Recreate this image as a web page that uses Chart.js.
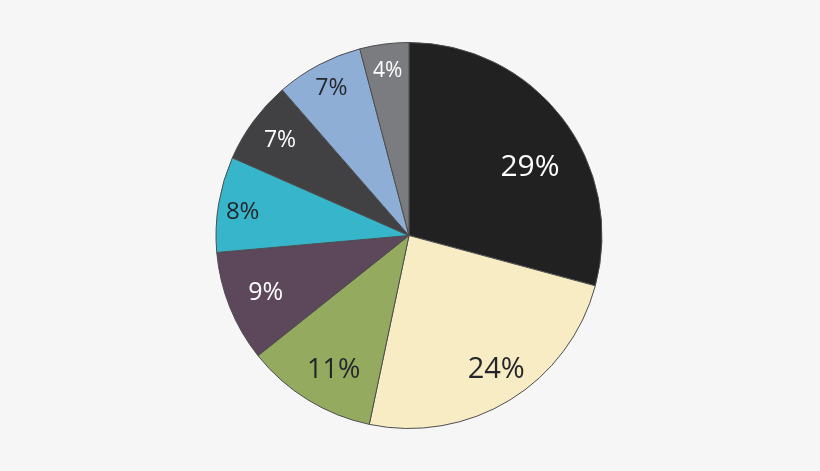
<!DOCTYPE html>
<html>
<head>
<meta charset="utf-8">
<script src="https://cdn.jsdelivr.net/npm/chart.js@4/dist/chart.umd.min.js"></script>
<style>
    html, body { margin: 0; padding: 0; background: #f6f6f6; }
    #wrap { width: 820px; height: 471px; }
</style>
</head>
<body>
<div id="wrap"><canvas id="pieChart" width="820" height="471"></canvas></div>
<script>
// Slice data, clockwise from 12 o'clock
const categories = ['A', 'B', 'C', 'D', 'E', 'F', 'G', 'H'];
const shares = [29.2, 24.1, 11.0, 9.3, 8.0, 7.0, 7.3, 4.1];
const percentLabels = ['29%', '24%', '11%', '9%', '8%', '7%', '7%', '4%'];

// Styles
const sliceColors = ['#222122', '#f8ecc4', '#94ab5f', '#5c475b', '#37b6cb', '#414143', '#8eaed6', '#7b7c80'];
const textColors = ['#ffffff', '#25262b', '#25262b', '#ffffff', '#25262b', '#ffffff', '#25262b', '#ffffff'];
const labelFontSizes = [30, 29, 27, 25, 24, 23, 23, 21];
// label placement: fraction of radius, angle shift in degrees
const labelRadius = [0.72, 0.83, 0.80, 0.80, 0.87, 0.83, 0.86, 0.86];
const labelShift = [8, -1.5, -2.5, 0, -1.5, 0, 0, 0];

// Draw percentage labels on each slice
const sliceLabels = {
    id: 'sliceLabels',
    afterDatasetsDraw(chart) {
        const ctx = chart.ctx;
        const arcs = chart.getDatasetMeta(0).data;
        ctx.save();
        ctx.textAlign = 'center';
        ctx.textBaseline = 'middle';
        arcs.forEach((arc, i) => {
            const p = arc.getProps(['x', 'y', 'startAngle', 'endAngle', 'outerRadius'], true);
            const mid = (p.startAngle + p.endAngle) / 2 + labelShift[i] * Math.PI / 180;
            const r = p.outerRadius * labelRadius[i];
            ctx.font = labelFontSizes[i] + 'px "Open Sans", sans-serif';
            ctx.fillStyle = textColors[i];
            ctx.fillText(percentLabels[i], p.x + Math.cos(mid) * r, p.y + Math.sin(mid) * r);
        });
        ctx.restore();
    }
};

new Chart(document.getElementById('pieChart'), {
    type: 'pie',
    data: {
        labels: categories,
        datasets: [{
            data: shares,
            backgroundColor: sliceColors,
            borderColor: '#4d4d4f',
            borderWidth: 1
        }]
    },
    options: {
        responsive: false,
        animation: false,
        layout: {
            padding: { top: 42, bottom: 42, left: 0, right: 2 }
        },
        plugins: {
            legend: { display: false },
            tooltip: { enabled: false }
        }
    },
    plugins: [sliceLabels]
});
</script>
</body>
</html>
